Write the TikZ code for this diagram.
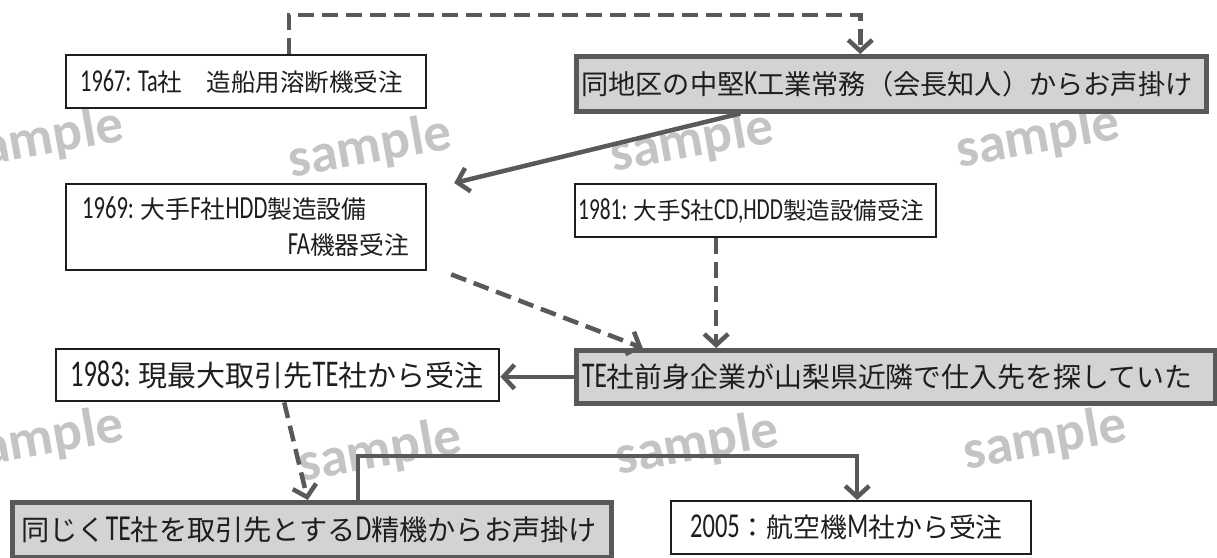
\documentclass[tikz,border=0pt]{standalone}
\usepackage{fontspec}
\setmainfont{Noto Sans CJK JP}
\newfontfamily\lat{Carlito}[Scale=1.3,FakeStretch=0.7]
\newfontfamily\wmfont{Carlito}
\usetikzlibrary{arrows.meta,calc}
\definecolor{lineGray}{HTML}{595959}
\definecolor{boxFill}{HTML}{D3D3D5}
\definecolor{txtc}{HTML}{1E1E1E}
\definecolor{wmc}{HTML}{C4C4C4}
\newcommand\myfs[1]{\fontsize{#1}{#1}\selectfont}
\begin{document}
\begin{tikzpicture}[x=1pt,y=-1pt,
  wbox/.style={draw=txtc, line width=2.4pt, fill=white, anchor=north west, inner sep=0pt},
  gbox/.style={draw=lineGray, line width=4.5pt, fill=boxFill, anchor=north west, inner sep=0pt},
  txt/.style={text=txtc, inner sep=0pt},
  conn/.style={draw=lineGray, line width=4.5pt, -{Straight Barb[length=11pt,width=24pt]}},
  dconn/.style={conn, dash pattern=on 16pt off 8pt},
  wm/.style={text=wmc, font=\wmfont\bfseries\myfs{55}, rotate=10, inner sep=0pt}]
\clip (0,0) rectangle (1217,557);
\fill[white] (0,0) rectangle (1217,557);

% watermarks
\node[wm] (w1) at (42,140) {sample};
\node[wm] (w2) at (370,148) {sample};
\node[wm] (w3) at (692,142) {sample};
\node[wm] (w4) at (1038,138) {sample};
\node[wm] (w5) at (42,440) {sample};
\node[wm] (w6) at (380,452) {sample};
\node[wm] (w7) at (697,445) {sample};
\node[wm] (w8) at (1045,440) {sample};

% boxes
\node[wbox, minimum width=360pt, minimum height=53pt] (b1) at (65,54) {};
\node[gbox, minimum width=630pt, minimum height=55pt] (b2) at (574,54) {};
\node[wbox, minimum width=360pt, minimum height=86pt] (b3) at (65,183) {};
\node[wbox, minimum width=361pt, minimum height=53pt] (b4) at (574,183) {};
\node[gbox, minimum width=639pt, minimum height=53pt] (b5) at (574,348) {};
\node[wbox, minimum width=443pt, minimum height=52pt] (b6) at (55,348) {};
\node[gbox, minimum width=599pt, minimum height=55pt] (b7) at (10,500) {};
\node[wbox, minimum width=360pt, minimum height=53pt] (b8) at (670,500) {};

% texts
\node[txt, anchor=west, font=\myfs{24.5}] (t1) at ([xshift=15pt]b1.west) {{\lat 1967: Ta}社　造船用溶断機受注};
\node[txt, anchor=west, font=\myfs{27.2}] (t2) at ([xshift=7pt]b2.west) {同地区の中堅{\lat K}工業常務（会長知人）からお声掛け};
\node[txt, anchor=west, font=\myfs{24.8}] (t3a) at ([xshift=17pt,yshift=19pt]b3.west) {{\lat 1969: }大手{\lat F}社{\lat HDD}製造設備};
\node[txt, anchor=east, font=\myfs{24.8}] (t3b) at ([xshift=-18pt,yshift=-18pt]b3.east) {{\lat FA}機器受注};
\node[txt, anchor=west, font=\myfs{23.5}] (t4) at ([xshift=4pt]b4.west) {{\lat 1981: }大手{\lat S}社{\lat CD,HDD}製造設備受注};
\node[txt, anchor=west, font=\myfs{27.9}] (t5) at ([xshift=8pt]b5.west) {{\lat TE}社前身企業が山梨県近隣で仕入先を探していた};
\node[txt, anchor=west, font=\myfs{29}] (t6) at ([xshift=15pt]b6.west) {{\lat 1983: }現最大取引先{\lat TE}社から受注};
\node[txt, anchor=west, font=\myfs{28.2}] (t7) at ([xshift=11pt]b7.west) {同じく{\lat TE}社を取引先とする{\lat D}精機からお声掛け};
\node[txt, anchor=west, font=\myfs{26.9}] (t8) at ([xshift=20pt]b8.west) {{\lat 2005}：航空機{\lat M}社から受注};

% connectors
\draw[dconn] ([xshift=43pt]b1.north) -- ++(0,-39) -| ([xshift=-31pt]b2.north);
\draw[conn] ([xshift=-151pt]b2.south) -- ([xshift=208pt]b3.north);
\draw[dconn] ([xshift=205pt,yshift=-3pt]b3.south) -- ([xshift=-253pt]b5.north);
\draw[dconn] ([xshift=-39.5pt]b4.south) -- ([xshift=-39.5pt]b4.south |- b5.north);
\draw[conn] (b5.west) -- (b5.west -| b6.east);
\draw[dconn] ([xshift=6.5pt]b6.south) -- ([xshift=-4pt]b7.north);
\draw[conn] ([xshift=46pt]b7.north) -- ++(0,-44) -| ([xshift=6pt]b8.north);
\end{tikzpicture}
\end{document}
